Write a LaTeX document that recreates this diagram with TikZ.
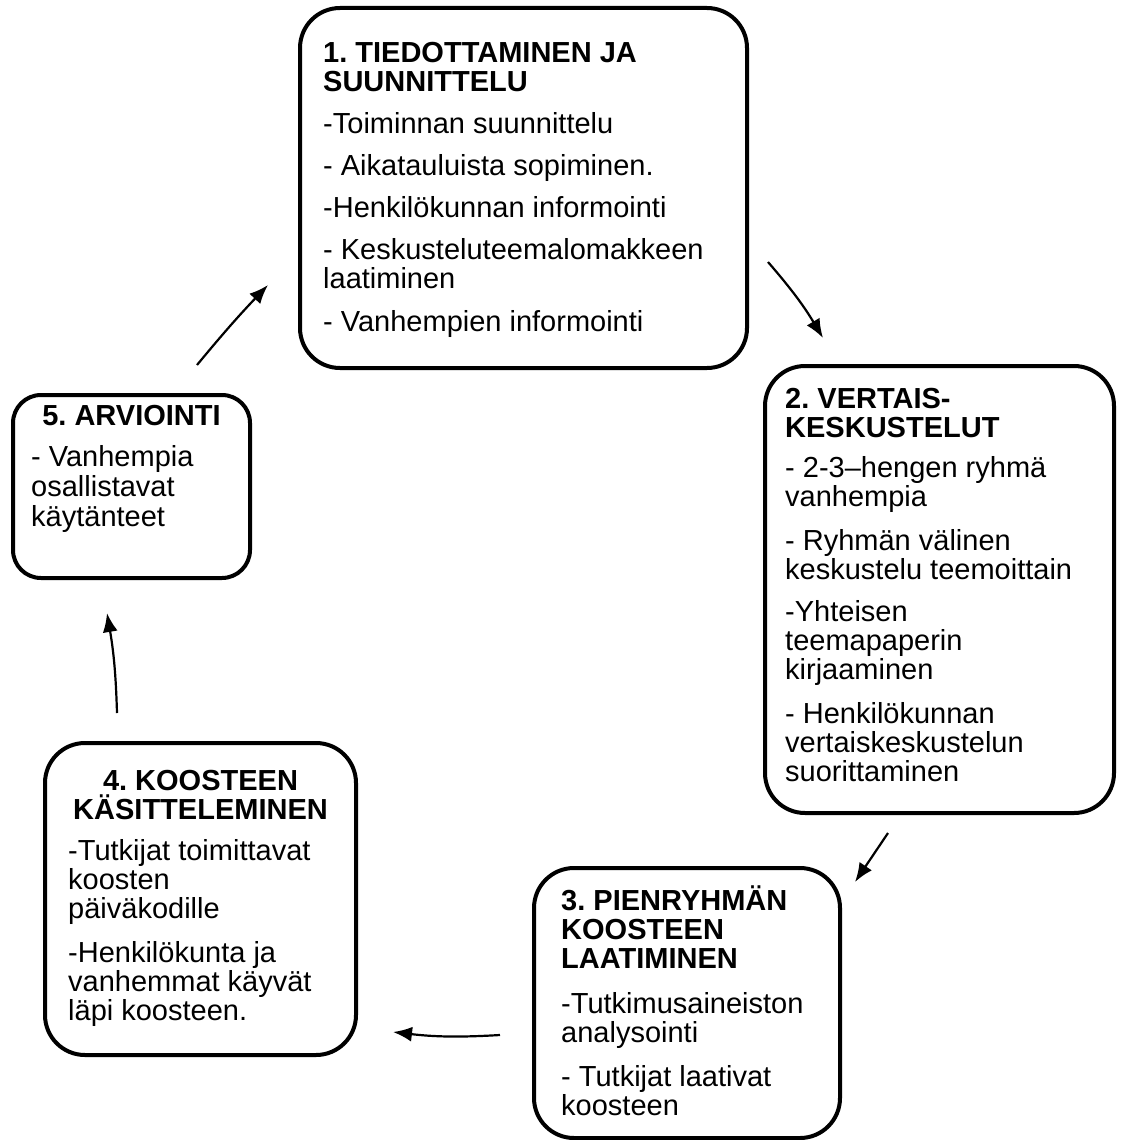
\documentclass[tikz,border=0pt]{standalone}
\usepackage{fontspec}
\setmainfont{Liberation Sans}
\usetikzlibrary{arrows.meta,calc}
\frenchspacing

\tikzset{
  stage/.style={draw,line width=4pt,rounded corners=40pt,inner sep=0pt},
  head/.style={font=\bfseries\fontsize{29}{29}\selectfont,inner sep=0pt},
  body/.style={font=\fontsize{29}{29}\selectfont,align=left,inner sep=0pt,anchor=north west},
  flow/.style={line width=2.2pt,-{Latex[length=19pt,width=15pt]}}
}
% strut for the first line of a text block
\newcommand{\tl}{\rule{0pt}{27pt}}

\begin{document}
\begin{tikzpicture}[x=1pt,y=-1pt]
\useasboundingbox (0,0) rectangle (1120,1140);

% stages
\node[stage,minimum width=447pt,minimum height=360pt] (b1) at (523.5,188) {};
\node[stage,minimum width=349pt,minimum height=447pt] (b2) at (939.5,589.5) {};
\node[stage,minimum width=306pt,minimum height=270pt] (b3) at (687,1003) {};
\node[stage,minimum width=311pt,minimum height=312pt] (b4) at (200.5,899) {};
\node[stage,rounded corners=28pt,minimum width=237pt,minimum height=183pt] (b5) at (131.5,486.5) {};

% titles
\node[head,align=left,anchor=north west] (t1) at ($(b1.north west)+(25,29)$)
  {\tl 1. TIEDOTTAMINEN JA\\SUUNNITTELU};
\node[head,align=left,anchor=north west] (t2) at ($(b2.north west)+(22,17)$)
  {\tl 2. VERTAIS-\\KESKUSTELUT};
\node[head,align=left,anchor=north west] (t3) at ($(b3.north west)+(29,17)$)
  {\tl 3. PIENRYHMÄN\\KOOSTEEN\\LAATIMINEN};
\node[head,align=center,anchor=north] (t4) at ($(b4.north)+(0,22)$)
  {\tl 4. KOOSTEEN\\KÄSITTELEMINEN};
\node[head,align=center,anchor=north] (t5) at ($(b5.north)+(0,5)$)
  {\tl 5. ARVIOINTI};

% texts
\node[body] (s1) at ($(t1.south -| b1.west)+(25,15)$)
  {\tl -Toiminnan suunnittelu\\[13pt]
   - Aikatauluista sopiminen.\\[13pt]
   -Henkilökunnan informointi\\[13pt]
   - Keskusteluteemalomakkeen\\laatiminen\\[14pt]
   - Vanhempien informointi};
\node[body] (s2) at ($(t2.south -| b2.west)+(22,13)$)
  {\tl - 2-3--hengen ryhmä\\vanhempia\\[15pt]
   - Ryhmän välinen\\keskustelu teemoittain\\[13pt]
   -Yhteisen\\teemapaperin\\kirjaaminen\\[15pt]
   - Henkilökunnan\\vertaiskeskustelun\\suorittaminen};
\node[body] (s3) at ($(t3.south -| b3.west)+(29,18)$)
  {\tl -Tutkimusaineiston\\analysointi\\[15pt]
   - Tutkijat laativat\\koosteen};
\node[body] (s4) at ($(t4.south -| b4.west)+(25,14)$)
  {\tl -Tutkijat toimittavat\\koosten\\päiväkodille\\[15pt]
   -Henkilökunta ja\\vanhemmat käyvät\\läpi koosteen.};
\node[body] (s5) at ($(t5.south -| b5.west)+(20,14)$)
  {\tl - Vanhempia\\[1pt]osallistavat\\[1pt]käytänteet};

% arrows between stages
\coordinate (a1s) at (768,262);  \coordinate (a1e) at (823,338);
\coordinate (a2s) at (888,833);  \coordinate (a2e) at (855,882);
\coordinate (a3s) at (500,1035); \coordinate (a3e) at (393,1032);
\coordinate (a4s) at (117,713);  \coordinate (a4e) at (107,613);
\coordinate (a5s) at (197,365);  \coordinate (a5e) at (268,285);

\draw[flow] (a1s) to[bend left=5] (a1e);
\draw[flow] (a2s) -- (a2e);
\draw[flow] (a3s) to[bend left=5] (a3e);
\draw[flow] (a4s) to[bend right=4] (a4e);
\draw[flow] (a5s) to[bend left=2] (a5e);
\end{tikzpicture}
\end{document}
